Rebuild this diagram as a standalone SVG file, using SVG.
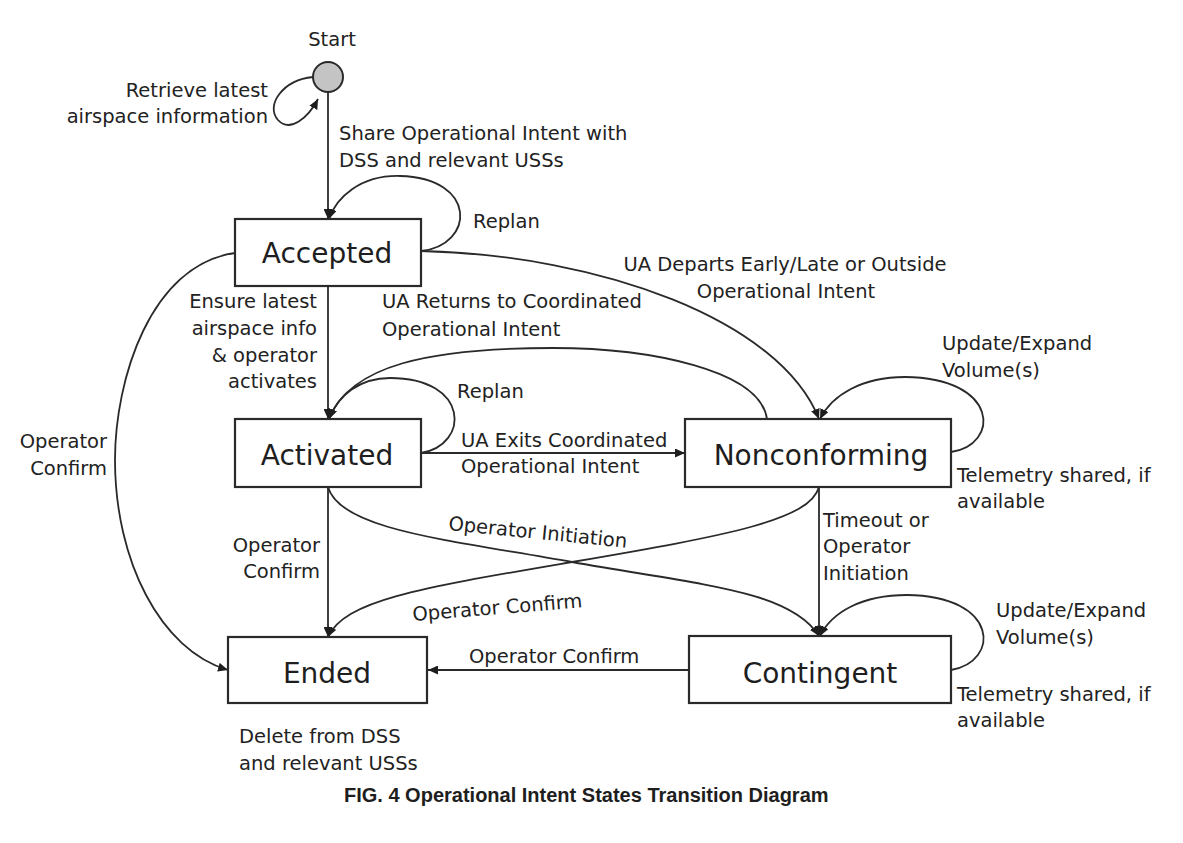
<svg xmlns="http://www.w3.org/2000/svg" width="1183" height="843" viewBox="0 0 1183 843">
<style>
.node rect{fill:#fff;stroke:#2a2a2a;stroke-width:2.2}
.node text{font-family:"DejaVu Sans",Verdana,sans-serif;font-size:28px;fill:#1e1e1e;text-anchor:middle}
.lbl{font-family:"DejaVu Sans",Verdana,sans-serif;font-size:19.5px;fill:#222}
.end{text-anchor:end}
.mid{text-anchor:middle}
#connectors path{fill:none;stroke:#2a2a2a;stroke-width:1.8}
.cap{font-family:"Liberation Sans",Arial,sans-serif;font-size:20px;font-weight:bold;fill:#1e1e1e}
</style>
<defs>
<marker id="ah" markerUnits="userSpaceOnUse" markerWidth="10" markerHeight="9" refX="10" refY="4.5" orient="auto">
<path d="M0,0 L10,4.5 L0,9 z" fill="#1e1e1e"/>
</marker>
</defs>
<rect width="1183" height="843" fill="#fff"/>

<g id="connectors">
<path d="M328,92 L328,219" marker-end="url(#ah)"/>
<path d="M313,77 C283,80 265,105 278,120 C290,133 308,118 318,99" marker-end="url(#ah)"/>
<path d="M421,251 C475,245 478,178 400,176 C360,175 336,198 329,219" marker-end="url(#ah)"/>
<path d="M328,286 L328,419" marker-end="url(#ah)"/>
<path d="M421,251 C600,255 780,320 819,419" marker-end="url(#ah)"/>
<path d="M767,419 C760,370 650,348 553,348 C430,348 350,365 329,419" marker-end="url(#ah)"/>
<path d="M421,453 C470,445 470,378 390,378 C360,378 338,395 329,419" marker-end="url(#ah)"/>
<path d="M421,453 L685,453" marker-end="url(#ah)"/>
<path d="M328,487 L328,637" marker-end="url(#ah)"/>
<path d="M328,487 C340,530 450,540 572,562 C700,585 790,590 819,636" marker-end="url(#ah)"/>
<path d="M819,487 C810,520 730,535 572,562 C420,588 345,600 328,637" marker-end="url(#ah)"/>
<path d="M951,452 C1000,445 1000,378 905,377 C862,377 832,395 820,419" marker-end="url(#ah)"/>
<path d="M819,487 L819,636" marker-end="url(#ah)"/>
<path d="M951,670 C1000,662 1000,596 907,595 C862,595 832,612 820,636" marker-end="url(#ah)"/>
<path d="M689,670 L428,670" marker-end="url(#ah)"/>
<path d="M235,253 C150,265 115,380 115,460 C115,560 160,650 228,670" marker-end="url(#ah)"/>
</g>

<g id="start">
<circle cx="328" cy="77" r="15" fill="#c4c4c4" stroke="#2a2a2a" stroke-width="2"/>
<text class="lbl mid" x="332" y="46">Start</text>
</g>
<g id="accepted" class="node">
<rect x="235" y="219" width="186" height="67"/>
<text x="327" y="263">Accepted</text>
</g>
<g id="activated" class="node">
<rect x="235" y="419" width="186" height="68"/>
<text x="327" y="465">Activated</text>
</g>
<g id="nonconforming" class="node">
<rect x="685" y="419" width="266" height="68"/>
<text x="821" y="465">Nonconforming</text>
</g>
<g id="ended" class="node">
<rect x="228" y="637" width="199" height="66"/>
<text x="327" y="683">Ended</text>
</g>
<g id="contingent" class="node">
<rect x="689" y="636" width="262" height="67"/>
<text x="820" y="683">Contingent</text>
</g>

<g id="labels">
<text class="lbl end" x="268" y="97">Retrieve latest</text>
<text class="lbl end" x="268" y="123">airspace information</text>
<text class="lbl" x="339" y="140">Share Operational Intent with</text>
<text class="lbl" x="339" y="167">DSS and relevant USSs</text>
<text class="lbl" x="473" y="228">Replan</text>
<text class="lbl mid" x="785" y="271">UA Departs Early/Late or Outside</text>
<text class="lbl mid" x="786" y="298">Operational Intent</text>
<text class="lbl end" x="317" y="308">Ensure latest</text>
<text class="lbl end" x="317" y="335">airspace info</text>
<text class="lbl end" x="317" y="362">&amp; operator</text>
<text class="lbl end" x="317" y="388">activates</text>
<text class="lbl" x="382" y="308">UA Returns to Coordinated</text>
<text class="lbl" x="382" y="336">Operational Intent</text>
<text class="lbl" x="457" y="398">Replan</text>
<text class="lbl" x="461" y="447">UA Exits Coordinated</text>
<text class="lbl" x="461" y="473">Operational Intent</text>
<text class="lbl" x="942" y="350">Update/Expand</text>
<text class="lbl" x="942" y="377">Volume(s)</text>
<text class="lbl" x="957" y="482">Telemetry shared, if</text>
<text class="lbl" x="957" y="508">available</text>
<text class="lbl end" x="107" y="448">Operator</text>
<text class="lbl end" x="107" y="475">Confirm</text>
<text class="lbl end" x="320" y="552">Operator</text>
<text class="lbl end" x="320" y="578">Confirm</text>
<text class="lbl" transform="translate(448,530) rotate(5.7)">Operator Initiation</text>
<text class="lbl" transform="translate(413,621) rotate(-4.6)">Operator Confirm</text>
<text class="lbl" x="823" y="527">Timeout or</text>
<text class="lbl" x="823" y="553">Operator</text>
<text class="lbl" x="823" y="580">Initiation</text>
<text class="lbl" x="996" y="617">Update/Expand</text>
<text class="lbl" x="996" y="644">Volume(s)</text>
<text class="lbl" x="957" y="701">Telemetry shared, if</text>
<text class="lbl" x="957" y="727">available</text>
<text class="lbl" x="469" y="663">Operator Confirm</text>
<text class="lbl" x="239" y="743">Delete from DSS</text>
<text class="lbl" x="239" y="770">and relevant USSs</text>
</g>
<text class="cap" x="344" y="802">FIG. 4 Operational Intent States Transition Diagram</text>
</svg>
